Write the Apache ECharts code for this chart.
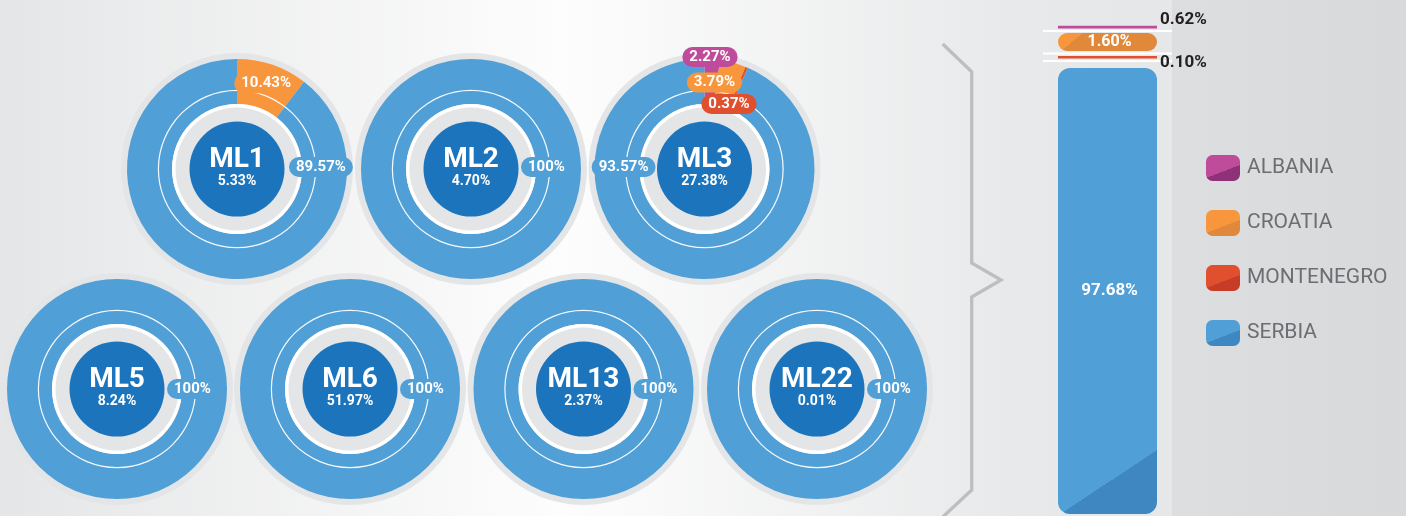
<!DOCTYPE html>
<html>
<head>
<meta charset="utf-8">
<script src="https://cdn.jsdelivr.net/npm/echarts@6/dist/echarts.min.js"></script>
<style>
  html, body { margin: 0; padding: 0; background: #ececed; }
  #chart { width: 1406px; height: 516px; }
</style>
</head>
<body>
<div id="chart"></div>
<script>
// ---- data -------------------------------------------------------------
// Each plant: its share of the total, and the split of its origin by country.
const plants = ['ML1', 'ML2', 'ML3', 'ML5', 'ML6', 'ML13', 'ML22'];
const plantShare = [5.33, 4.70, 27.38, 8.24, 51.97, 2.37, 0.01];
const countries = ['ALBANIA', 'CROATIA', 'MONTENEGRO', 'SERBIA'];
const albaniaShare = [0, 0, 2.27, 0, 0, 0, 0];
const croatiaShare = [10.43, 0, 3.79, 0, 0, 0, 0];
const montenegroShare = [0, 0, 0.37, 0, 0, 0, 0];
const serbiaShare = [89.57, 100, 93.57, 100, 100, 100, 100];
// Overall split, stacked from the bottom of the column upwards.
const totalCountries = ['SERBIA', 'MONTENEGRO', 'CROATIA', 'ALBANIA'];
const totalShare = [97.68, 0.10, 1.60, 0.62];

// ---- styling ----------------------------------------------------------
const FONT = 'Roboto';
const palette = {
  ALBANIA:    { base: '#bf4b9b', dark: '#8f3176' },
  CROATIA:    { base: '#f7963c', dark: '#e0893a' },
  MONTENEGRO: { base: '#e0502f', dark: '#c63c26' },
  SERBIA:     { base: '#509fd6', dark: '#3e87c1' }
};
const CORE = '#1c75bc';
const RING_GREY = '#e4e5e7';

// donut geometry (px)
const donut = {
  centres: [[237, 169], [471, 169], [704.5, 169], [117, 389], [350, 389], [583.5, 389], [817, 389]],
  rGrey: 116, rOuter: 110, rInner: 65, rWhite: 61.5, rCore: 47.5, rLine: 78
};
// where each slice's value tag sits, relative to the donut centre: [dx, dy, align]
const defaultSpot = { SERBIA: [50, -2, 'left'] };
const tagSpots = {
  ML1: { SERBIA: [52, -2, 'left'] },
  ML3: {
    ALBANIA: [5.5, -112, 'center'],
    CROATIA: [10, -86.5, 'center'],
    MONTENEGRO: [24.5, -65, 'center'],
    SERBIA: [-49, -2, 'right']
  },
  ML5: { SERBIA: [50, 0, 'left'] },
  ML6: { SERBIA: [50, 0, 'left'] },
  ML13: { SERBIA: [50, 0, 'left'] },
  ML22: { SERBIA: [50, 0, 'left'] }
};

// column segments: minimum visible height, corner radius, gap to the next one up
const segStyle = {
  SERBIA:     { minH: 0,   r: 12, gapAbove: 9.5, tag: 'inside', fold: true },
  MONTENEGRO: { minH: 2.5, r: 0,  gapAbove: 5,   tag: 'below',  thin: true },
  CROATIA:    { minH: 18,  r: 9,  gapAbove: 4.5, tag: 'inside', fold: true },
  ALBANIA:    { minH: 2.5, r: 0,  gapAbove: 0,   tag: 'above',  thin: true }
};

function fmtPct(v) {
  return (Number.isInteger(v) ? String(v) : v.toFixed(2)) + '%';
}

// hard two-tone fill split along the line (x0,y0)-(x1,y1), darker to the lower right
function foldFill(x0, y0, x1, y1, base, dark) {
  const dx = x1 - x0, dy = y1 - y0, len = Math.hypot(dx, dy);
  const nx = -dy / len, ny = dx / len;
  return {
    type: 'linear', x: x0 - nx, y: y0 - ny, x2: x0 + nx, y2: y0 + ny, global: true,
    colorStops: [
      { offset: 0, color: base }, { offset: 0.5, color: base },
      { offset: 0.5, color: dark }, { offset: 1, color: dark }
    ]
  };
}

function swatchFill(name) {
  const c = palette[name];
  return {
    type: 'linear', x: 0, y: 0, x2: 0.382, y2: 1.308, global: false,
    colorStops: [
      { offset: 0, color: c.base }, { offset: 0.59, color: c.base },
      { offset: 0.59, color: c.dark }, { offset: 1, color: c.dark }
    ]
  };
}

// ---- donut series ----------------------------------------------------
const series = [];
plants.forEach((plant, k) => {
  const centre = donut.centres[k];
  const shares = {
    ALBANIA: albaniaShare[k], CROATIA: croatiaShare[k],
    MONTENEGRO: montenegroShare[k], SERBIA: serbiaShare[k]
  };
  const names = countries.filter(c => shares[c] > 0);
  const spots = Object.assign({}, defaultSpot, tagSpots[plant] || {});
  const common = {
    type: 'pie', center: centre, silent: true, startAngle: 90, clockwise: true,
    label: { show: false }, labelLine: { show: false },
    emphasis: { disabled: true }, itemStyle: { borderWidth: 0 }
  };
  const solid = (r, color, z) => Object.assign({}, common, {
    z: z, radius: r, data: [{ value: 1, name: '', itemStyle: { color: color } }]
  });

  series.push(solid([0, donut.rGrey], RING_GREY, 1));
  series.push(Object.assign({}, common, {
    z: 2, radius: [donut.rInner, donut.rOuter],
    data: names.map(c => ({ name: c, value: shares[c], itemStyle: { color: palette[c].base } }))
  }));
  series.push(solid([donut.rWhite, donut.rInner], '#ffffff', 2));
  series.push(Object.assign({}, common, {
    z: 3, radius: [0, donut.rCore],
    data: [{ name: plant, value: plantShare[k], itemStyle: { color: CORE } }],
    label: {
      show: true, position: 'center',
      formatter: p => `{t|${p.name}}\n{s|${p.value.toFixed(2)}%}`,
      rich: {
        t: { fontSize: 28, fontWeight: 'bold', color: '#fff', lineHeight: 25, fontFamily: FONT },
        s: { fontSize: 14, fontWeight: 'bold', color: '#fff', lineHeight: 19, fontFamily: FONT }
      }
    }
  }));
  series.push(solid([donut.rLine, donut.rLine + 1.2], 'rgba(255,255,255,0.95)', 3));
  // value tags on top of everything
  series.push(Object.assign({}, common, {
    z: 5, radius: [donut.rInner, donut.rOuter],
    data: names.map(c => ({
      name: c, value: shares[c],
      itemStyle: { color: 'rgba(0,0,0,0)' },
      label: { backgroundColor: palette[c].base }
    })),
    label: {
      show: true, position: 'inside', formatter: p => fmtPct(p.value),
      color: '#fff', fontSize: 15, fontWeight: 'bold', fontFamily: FONT,
      lineHeight: 15, padding: [3, 7, 2, 7], borderRadius: 10
    },
    labelLayout: params => {
      const spot = spots[names[params.dataIndex]];
      if (!spot) return {};
      return { x: centre[0] + spot[0], y: centre[1] + spot[1], align: spot[2], verticalAlign: 'middle' };
    }
  }));
});

// ---- overall column ---------------------------------------------------
function segHeight(j, api) {
  return Math.max(api.size([0, totalShare[j]])[1], segStyle[totalCountries[j]].minH);
}

function renderTotal(params, api) {
  const i = params.dataIndex;
  const anchor = api.coord([0, 0]);
  const w = api.size([1, 0])[0];
  const left = anchor[0] - w / 2, right = left + w;
  let bottom = anchor[1];
  for (let j = 0; j < i; j++) bottom -= segHeight(j, api) + segStyle[totalCountries[j]].gapAbove;
  const name = totalCountries[i];
  const st = segStyle[name];
  const col = palette[name];
  const h = segHeight(i, api);
  const top = bottom - h;
  const children = [];

  let fill = col.base;
  if (name === 'SERBIA') fill = foldFill(left + 4, bottom - 1, right, bottom - 64, col.base, col.dark);
  if (name === 'CROATIA') fill = foldFill(left + 4, bottom - 1, left + 25, top, col.base, col.dark);
  children.push({ type: 'rect', shape: { x: left, y: top, width: w, height: h, r: st.r }, style: { fill: fill } });

  if (st.thin) {
    if (i < totalCountries.length - 1) {
      children.push({ type: 'rect', shape: { x: left - 15, y: top - 3.5, width: w + 30, height: 2 }, style: { fill: '#ffffff' } });
    }
    if (i > 0) {
      children.push({ type: 'rect', shape: { x: left - 15, y: bottom + 1.5, width: w + 30, height: 2 }, style: { fill: '#ffffff' } });
    }
  }

  const text = fmtPct(api.value(1));
  if (st.tag === 'inside') {
    children.push({
      type: 'text', x: (left + right) / 2 + 2, y: (top + bottom) / 2,
      style: { text: text, fill: '#fff', fontSize: name === 'SERBIA' ? 17 : 16, fontWeight: 'bold',
               fontFamily: FONT, align: 'center', verticalAlign: 'middle' }
    });
  } else {
    children.push({
      type: 'text', x: right + 3, y: st.tag === 'above' ? top + 3 : top - 2,
      style: { text: text, fill: '#231f20', fontSize: 17, fontWeight: 'bold', fontFamily: FONT,
               align: 'left', verticalAlign: st.tag === 'above' ? 'bottom' : 'top' }
    });
  }
  return { type: 'group', children: children };
}

series.push({
  type: 'custom', name: 'total', silent: true, clip: false, z: 4,
  xAxisIndex: 0, yAxisIndex: 0,
  data: totalShare.map(v => [0, v]),
  renderItem: renderTotal
});

// ---- chart ----------------------------------------------------------
const chart = echarts.init(document.getElementById('chart'));
chart.setOption({
  animation: false,
  textStyle: { fontFamily: FONT },
  grid: { left: 1058, width: 99, top: 57.4, bottom: 2 },
  xAxis: { type: 'category', data: ['total'], show: false },
  yAxis: { type: 'value', min: 0, max: 100, show: false },
  legend: {
    orient: 'vertical', left: 1201, top: 150,
    itemWidth: 34, itemHeight: 26, itemGap: 29,
    icon: 'roundRect', selectedMode: false,
    data: countries.map(c => ({ name: c, itemStyle: { color: swatchFill(c) } })),
    textStyle: { fontSize: 21, color: '#6d6e71', fontFamily: FONT, padding: [0, 0, 0, 2] }
  },
  graphic: {
    elements: [
      {
        type: 'rect', z: -100, silent: true,
        shape: { x: 0, y: 0, width: 1406, height: 516 },
        style: {
          fill: {
            type: 'linear', x: 0, y: 0, x2: 1, y2: 0,
            colorStops: [
              { offset: 0, color: '#e5e6e7' }, { offset: 0.4, color: '#fdfdfd' },
              { offset: 0.72, color: '#e8e9ea' }, { offset: 1, color: '#e3e4e6' }
            ]
          }
        }
      },
      {
        type: 'rect', z: -99, silent: true,
        shape: { x: 1172, y: 0, width: 234, height: 516 },
        style: {
          fill: {
            type: 'linear', x: 0, y: 0, x2: 1, y2: 0,
            colorStops: [{ offset: 0, color: '#dddee0' }, { offset: 1, color: '#d8d9db' }]
          }
        }
      },
      {
        type: 'polyline', z: 1, silent: true,
        shape: { points: [[942.7, 44], [971.7, 71.7], [971.7, 263], [1001, 280], [971.7, 297], [971.7, 490], [942.7, 517]] },
        style: { stroke: '#bdbec1', lineWidth: 3.3, fill: null, lineJoin: 'miter' }
      }
    ]
  },
  series: series
});
</script>
</body>
</html>
